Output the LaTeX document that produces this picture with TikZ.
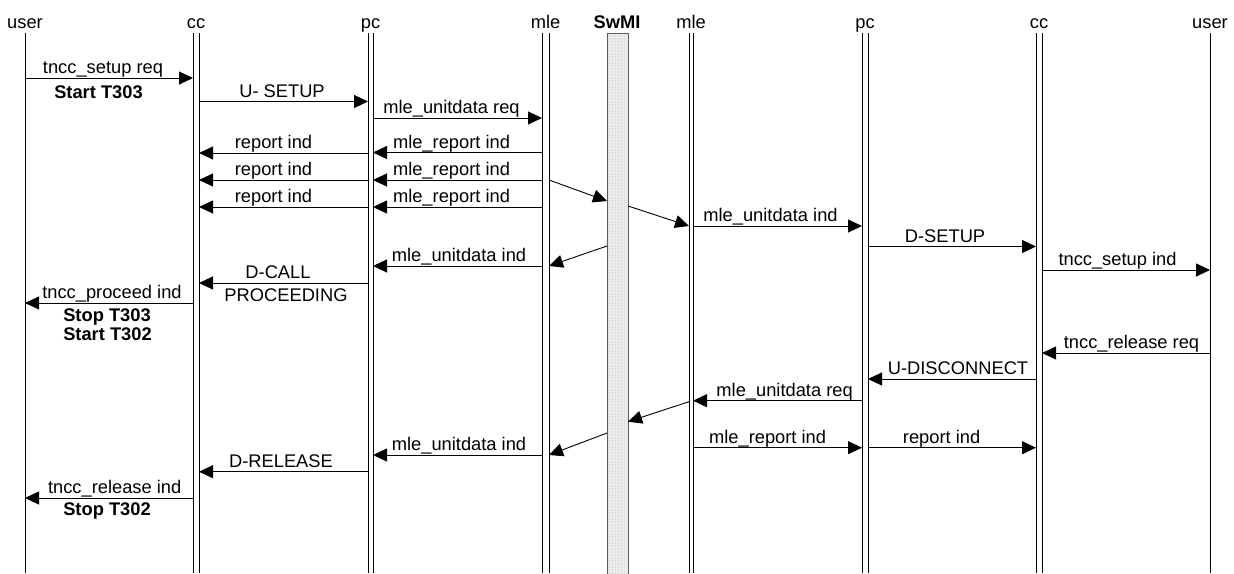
\documentclass[tikz,border=0pt]{standalone}
\usepackage{fontspec}
\setmainfont{Liberation Sans}
\usetikzlibrary{arrows.meta,patterns}
\tikzset{
  lifeline/.style={draw=black, line width=0.9pt},
  msgarrow/.style={draw=black, line width=0.9pt, -{Triangle[length=14pt,width=13pt]}},
  msglabel/.style={anchor=base, inner sep=0pt, font=\fontsize{18.3}{21}\selectfont},
  boldlabel/.style={anchor=base, inner sep=0pt, align=center, font=\fontsize{18.3}{19}\selectfont\bfseries},
  header/.style={anchor=base, inner sep=0pt, font=\fontsize{18.3}{21}\selectfont},
  swmibox/.style={draw=black!65, fill=black!7, line width=0.9pt},
  swmidots/.style={pattern=dots, pattern color=black!40}
}
\newcommand\seqmsg[6]{%
  \coordinate (#1a) at (#2,#4);
  \coordinate (#1b) at (#3,#4);
  \draw[msgarrow] (#1a) -- (#1b);
  \node[msglabel] (#1l) at (#6,#4-4.5) {#5};
}
\begin{document}
\begin{tikzpicture}[x=1pt,y=-1pt]
\useasboundingbox (0,0) rectangle (1234,573);
% headers
\node[header] (hUserL) at (25,28) {user};
\node[header] (hCcL) at (196,28) {cc};
\node[header] (hPcL) at (370.5,28) {pc};
\node[header] (hMleL) at (545.5,28) {mle};
\node[header,font=\fontsize{18.3}{21}\selectfont\bfseries] (hSw) at (617,28) {SwMI};
\node[header] (hMleR) at (691,28) {mle};
\node[header] (hPcR) at (865,28) {pc};
\node[header] (hCcR) at (1039,28) {cc};
\node[header] (hUserR) at (1210,28) {user};
% lifelines
\draw[lifeline] (25,33) -- (25,573);
\draw[lifeline] (193,33) -- (193,573);
\draw[lifeline] (199,33) -- (199,573);
\draw[lifeline] (368,33) -- (368,573);
\draw[lifeline] (373,33) -- (373,573);
\draw[lifeline] (542,33) -- (542,573);
\draw[lifeline] (549,33) -- (549,573);
\draw[swmibox] (607,33) rectangle (628,574);
\fill[swmidots] (608,34) rectangle (627,573);
\draw[lifeline] (689,33) -- (689,573);
\draw[lifeline] (693,33) -- (693,573);
\draw[lifeline] (862,33) -- (862,573);
\draw[lifeline] (868,33) -- (868,573);
\draw[lifeline] (1036,33) -- (1036,573);
\draw[lifeline] (1042,33) -- (1042,573);
\draw[lifeline] (1210,33) -- (1210,573);
% messages
\seqmsg{m1}{25}{193}{78}{tncc\_setup req}{103}
\node[boldlabel] (t1) at (98.5,98) {Start T303};
\seqmsg{m2}{199}{368}{101.5}{U- SETUP}{282}
\seqmsg{m3}{373}{542}{118}{mle\_unitdata req}{451.5}
\seqmsg{m4a}{542}{373}{152.5}{mle\_report ind}{451.5}
\seqmsg{m4b}{368}{199}{153}{report ind}{273.5}
\seqmsg{m5a}{542}{373}{180}{mle\_report ind}{451.5}
\seqmsg{m5b}{368}{199}{180}{report ind}{273.5}
\seqmsg{m6a}{542}{373}{207}{mle\_report ind}{451.5}
\seqmsg{m6b}{368}{199}{207}{report ind}{273.5}
% diagonals through SwMI
\coordinate (d1a) at (549,180); \coordinate (d1b) at (607,201);
\draw[msgarrow] (d1a) -- (d1b);
\coordinate (d2a) at (628,206); \coordinate (d2b) at (689,226);
\draw[msgarrow] (d2a) -- (d2b);
\seqmsg{m7}{693}{862}{226}{mle\_unitdata ind}{770.5}
\seqmsg{m8}{868}{1036}{246.5}{D-SETUP}{945}
\seqmsg{m9}{1042}{1210}{270}{tncc\_setup ind}{1117.5}
\coordinate (d3a) at (607,246); \coordinate (d3b) at (549,266);
\draw[msgarrow] (d3a) -- (d3b);
\seqmsg{m10}{542}{373}{266}{mle\_unitdata ind}{459}
\seqmsg{m11}{368}{199}{283}{D-CALL}{278}
\node[msglabel] (m11l2) at (286,301) {PROCEEDING};
\seqmsg{m12}{193}{25}{303}{tncc\_proceed ind}{112}
\node[boldlabel] (t2) at (107,321.5) {Stop T303};
\node[boldlabel] (t3) at (107.5,340) {Start T302};
\seqmsg{m13}{1210}{1042}{353}{tncc\_release req}{1131.5}
\seqmsg{m14}{1036}{868}{379}{U-DISCONNECT}{958}
\seqmsg{m15}{862}{693}{400.7}{mle\_unitdata req}{784.6}
\coordinate (d4a) at (689,401.7); \coordinate (d4b) at (628,421.7);
\draw[msgarrow] (d4a) -- (d4b);
\seqmsg{m16}{693}{862}{447.7}{mle\_report ind}{767.6}
\seqmsg{m17}{868}{1036}{447.7}{report ind}{941.6}
\coordinate (d5a) at (607,433); \coordinate (d5b) at (549,455);
\draw[msgarrow] (d5a) -- (d5b);
\seqmsg{m18}{542}{373}{455}{mle\_unitdata ind}{459}
\seqmsg{m19}{368}{199}{471.7}{D-RELEASE}{281}
\seqmsg{m20}{193}{25}{498}{tncc\_release ind}{114.7}
\node[boldlabel] (t4) at (107,515) {Stop T302};
\end{tikzpicture}
\end{document}
